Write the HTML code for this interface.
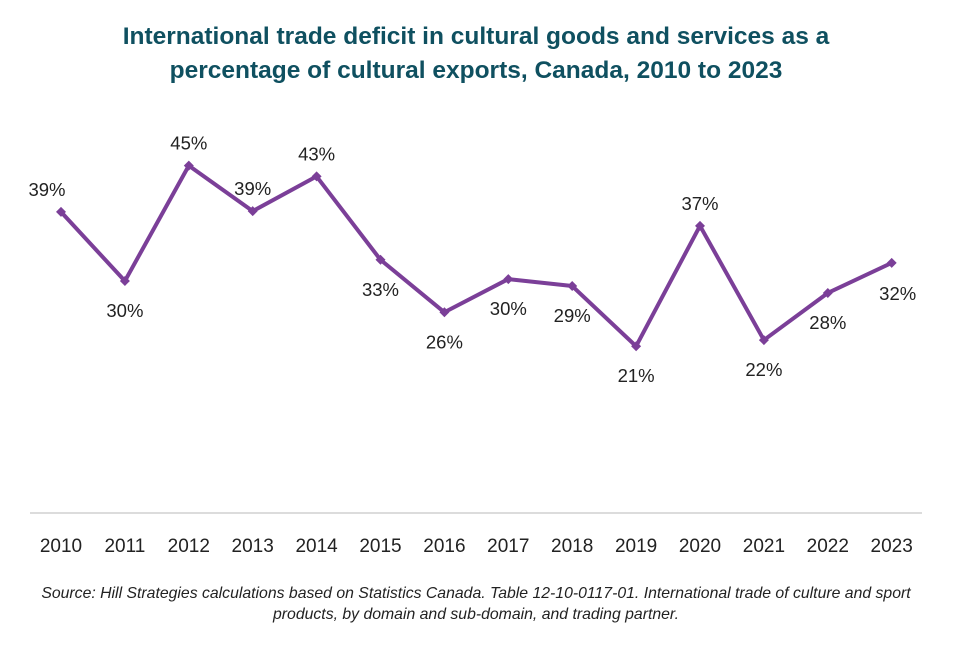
<!DOCTYPE html>
<html><head><meta charset="utf-8"><style>
body{margin:0;background:#fff;width:953px;height:643px;overflow:hidden;font-family:"Liberation Sans",sans-serif}
</style></head><body>
<svg width="953" height="643">
<text x="476" y="44" text-anchor="middle" font-size="24.5" font-weight="bold" fill="#0f5060">International trade deficit in cultural goods and services as a</text>
<text x="476" y="78" text-anchor="middle" font-size="24.5" font-weight="bold" fill="#0f5060">percentage of cultural exports, Canada, 2010 to 2023</text>
<line x1="30" y1="513" x2="922" y2="513" stroke="#d0d0d0" stroke-width="1.5"/>
<g id="plot"></g>
<text x="476" y="598" text-anchor="middle" font-size="15.8" font-style="italic" fill="#222">Source: Hill Strategies calculations based on Statistics Canada. Table 12-10-0117-01. International trade of culture and sport</text>
<text x="476" y="619" text-anchor="middle" font-size="15.8" font-style="italic" fill="#222">products, by domain and sub-domain, and trading partner.</text>
</svg>
<script>
const years=["2010","2011","2012","2013","2014","2015","2016","2017","2018","2019","2020","2021","2022","2023"];
const values=[39.0,30.05,45.0,39.1,43.6,32.8,26.0,30.3,29.4,21.6,37.2,22.4,28.5,32.4];
const labels=["39%","30%","45%","39%","43%","33%","26%","30%","29%","21%","37%","22%","28%","32%"];
const labelAbove=[1,0,1,1,1,0,0,0,0,0,1,0,0,0];
const NS="http://www.w3.org/2000/svg";
const g=document.getElementById('plot');
function xS(i){return 61+i*63.9;}
function yS(v){return 513-v*7.72;}
function mk(t,a){const e=document.createElementNS(NS,t);for(const k in a)e.setAttribute(k,a[k]);return e;}
const pts=values.map((v,i)=>xS(i)+","+yS(v)).join(" ");
const line=mk('polyline',{points:pts,fill:"none",stroke:"#7b3f98","stroke-width":4,"stroke-linejoin":"round"});


g.appendChild(line);
values.forEach((v,i)=>{
 const x=xS(i),y=yS(v);
 const m=mk('polygon',{points:`${x},${y-5} ${x+5},${y} ${x},${y+5} ${x-5},${y}`,fill:"#7b3f98"});
 
 
 g.appendChild(m);
 let lx=x, ly=labelAbove[i]?y-16:y+36;
 if(i===0){lx=x-14;ly=y-16;}
 if(i===13){lx=x+6;ly=y+37;}
 const t=mk('text',{x:lx,y:ly,"text-anchor":"middle","font-size":18.5,fill:"#222"});
 t.textContent=labels[i];
 
 
 g.appendChild(t);
 const yt=mk('text',{x:x,y:552,"text-anchor":"middle","font-size":19,fill:"#222"});
 yt.textContent=years[i];
 
 
 g.appendChild(yt);
});
</script>
</body></html>
